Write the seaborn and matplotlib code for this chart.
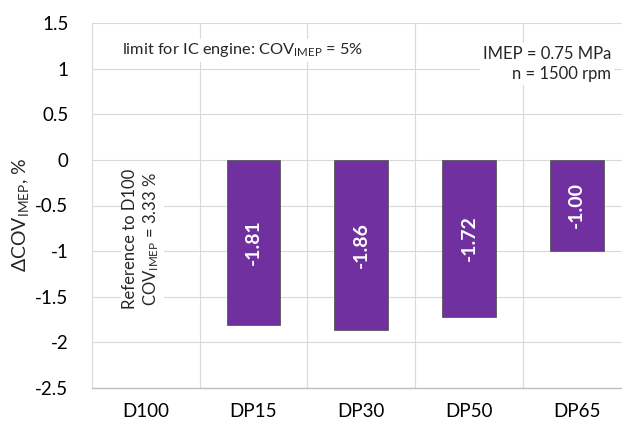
import numpy as np
import pandas as pd
import matplotlib
matplotlib.use("Agg")
import matplotlib.pyplot as plt
import seaborn as sns

categories = ["D100", "DP15", "DP30", "DP50", "DP65"]
delta_cov = [np.nan, -1.81, -1.86, -1.72, -1.00]
y_ticks = [-2.5, -2, -1.5, -1, -0.5, 0, 0.5, 1, 1.5]
y_tick_labels = ["-2.5", "-2", "-1.5", "-1", "-0.5", "0", "0.5", "1", "1.5"]

df = pd.DataFrame({"fuel": categories, "dcov": delta_cov})

sns.set_theme(style="white")
FONT = "Lato"
plt.rcParams["font.family"] = [FONT, "DejaVu Sans"]
plt.rcParams["mathtext.fontset"] = "custom"
plt.rcParams["mathtext.rm"] = FONT
plt.rcParams["mathtext.it"] = FONT
plt.rcParams["mathtext.bf"] = FONT + ":bold"

fig = plt.figure(figsize=(6.22, 4.21), dpi=100)
ax = fig.add_axes([92 / 622, 33 / 421, 538.5 / 622, 365 / 421])

sns.barplot(data=df, x="fuel", y="dcov", order=categories, color="#7030A0",
            saturation=1, width=0.5, edgecolor="#595959", linewidth=0.6,
            ax=ax, zorder=3)

ax.set_ylim(-2.5, 1.5)
ax.set_xlim(-0.5, len(categories) - 0.5)
ax.set_yticks(y_ticks)
ax.set_yticklabels(y_tick_labels)
ax.set_xticks(range(len(categories)))
ax.set_xticklabels(categories)
ax.set_xticks([i + 0.5 for i in range(len(categories) - 1)], minor=True)
ax.tick_params(axis="both", which="both", length=0, labelsize=13.5, colors="#000000")
ax.tick_params(axis="y", pad=17)
ax.tick_params(axis="x", pad=11)

ax.grid(False)
ax.yaxis.grid(True, which="major", color="#d9d9d9", lw=0.8, zorder=0)
ax.xaxis.grid(True, which="minor", color="#d9d9d9", lw=0.8, zorder=0)
ax.set_axisbelow(True)

for s in ["top", "right"]:
    ax.spines[s].set_visible(False)
ax.spines["left"].set_color("#d9d9d9")
ax.spines["left"].set_linewidth(0.8)
ax.spines["bottom"].set_color("#bfbfbf")
ax.spines["bottom"].set_linewidth(1.0)

ax.set_xlabel("")
ax.set_ylabel(r"$\Delta$COV$_{\mathregular{IMEP}}$, %", fontsize=14)
ax.yaxis.set_label_coords(-0.113, 0.474)

for patch in ax.patches:
    h = patch.get_height()
    if np.isnan(h) or h == 0:
        continue
    ax.text(patch.get_x() + patch.get_width() / 2, h / 2, f"{h:.2f}",
            rotation=90, ha="center", va="center", color="white",
            fontsize=14, fontweight="bold", zorder=4)

box = dict(facecolor="white", edgecolor="none", pad=2)
ax.text(-0.22, 1.2, r"limit for IC engine: COV$_{\mathregular{IMEP}}$ = 5%",
        ha="left", va="center", fontsize=11.8, bbox=box, zorder=5)
ax.text(4.32, 1.05, "IMEP = 0.75 MPa\nn = 1500 rpm", ha="right", va="center",
        multialignment="right", fontsize=12, bbox=box, zorder=5, linespacing=1.3)
ax.text(-0.04, -0.87, "Reference to D100\n" + r"COV$_{\mathregular{IMEP}}$ = 3.33 %",
        rotation=90, ha="center", va="center", multialignment="center",
        fontsize=12, bbox=box, zorder=5, linespacing=1.2)

fig.savefig("out.png", dpi=100)
